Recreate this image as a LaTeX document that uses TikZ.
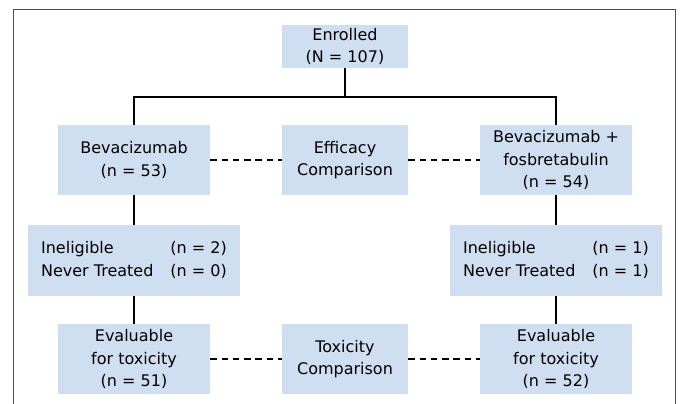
\documentclass[tikz,border=0pt]{standalone}
\usepackage{fontspec}
\setmainfont{DejaVu Sans}
\usepackage{tikz}

\definecolor{boxblue}{RGB}{207,222,240}

\begin{document}
\begin{tikzpicture}[box/.style = {fill=boxblue, align=center, inner sep=0pt,
                        minimum width=152pt, minimum height=70pt,
                        font=\fontsize{16}{22.7}\selectfont},
                    cmpbox/.style = {box, minimum width=126pt},
                    link/.style = {line width=1.9pt},
                    cmpline/.style = {line width=1.9pt, dash pattern=on 6.5pt off 4.8pt},
                    frameline/.style = {draw=black!70, line width=1pt}]
            \useasboundingbox (0,0) rectangle (680pt,-404pt);
            \draw[frameline] (13pt,-405pt) -- (13pt,-10pt) -- (675pt,-10pt) -- (675pt,-405pt);
            \node[cmpbox, minimum height=43pt] (enr) at (345pt,-46.5pt) {Enrolled\\(N = 107)};
            \node[cmpbox] (eff) [below of=enr, node distance=113.5pt] {Efficacy\\Comparison};
            \node[box] (bev) [left of=eff, node distance=211pt] {Bevacizumab\\(n = 53)};
            \node[box] (fos) [right of=eff, node distance=211pt] {Bevacizumab +\\fosbretabulin\\(n = 54)};
            \node[box, minimum width=212pt, minimum height=71pt] (inelA) [below of=bev, node distance=100.5pt]
                {\begin{tabular}{@{}l@{\hspace{17pt}}l@{}}Ineligible & (n = 2)\\Never Treated & (n = 0)\end{tabular}};
            \node[box, minimum width=212pt, minimum height=71pt] (inelB) [below of=fos, node distance=100.5pt]
                {\begin{tabular}{@{}l@{\hspace{17pt}}l@{}}Ineligible & (n = 1)\\Never Treated & (n = 1)\end{tabular}};
            \node[box] (evalA) [below of=inelA, node distance=98.5pt] {Evaluable\\for toxicity\\(n = 51)};
            \node[box] (evalB) [below of=inelB, node distance=98.5pt] {Evaluable\\for toxicity\\(n = 52)};
            \node[cmpbox] (tox) [right of=evalA, node distance=211pt] {Toxicity\\Comparison};
            \coordinate (split) at (345pt,-97pt);
            \draw[link] (enr) -- (split);
                \draw[link] (bev) |- (split) -| (fos);
                \draw[link] (bev) -- (inelA);
                \draw[link] (inelA) -- (evalA);
                \draw[link] (fos) -- (inelB);
                \draw[link] (inelB) -- (evalB);
                \draw[cmpline] (bev) -- (eff);
                \draw[cmpline] (eff) -- (fos);
                \draw[cmpline] (evalA) -- (tox);
                \draw[cmpline] (tox) -- (evalB);
        \end{tikzpicture}
\end{document}
